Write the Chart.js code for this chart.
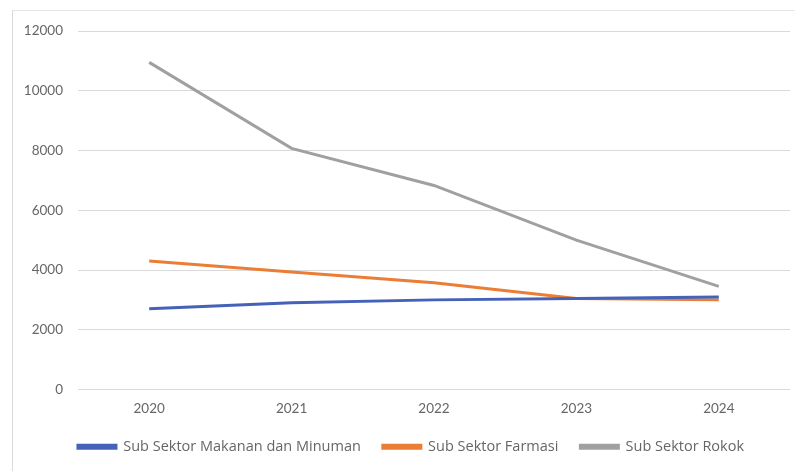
<!DOCTYPE html>
<html><head><meta charset="utf-8">
<script src="https://cdn.jsdelivr.net/npm/chart.js@4.4.1/dist/chart.umd.min.js"></script>
<style>
html,body{margin:0;padding:0;background:#fff;}
#wrap{position:absolute;left:0;top:0;width:795px;height:471px;}
#frame{position:absolute;left:12px;top:10px;width:800px;height:470px;border-left:1.5px solid #d9d9d9;border-top:1.5px solid #e6e6e6;}
</style></head>
<body>
<div id="wrap"><div id="frame"></div><canvas id="c" width="795" height="471"></canvas></div>
<script>
const years = ["2020","2021","2022","2023","2024"];
const makananMinuman = [2700, 2900, 3000, 3050, 3100];
const farmasi = [4300, 3930, 3570, 3050, 3000];
const rokok = [10950, 8070, 6830, 5000, 3450];
const yTicks = [0, 2000, 4000, 6000, 8000, 10000, 12000];

const tickColor = '#666666';
const fontFam = 'Lato, "Liberation Sans", sans-serif';

const shiftLegend = {
  id: 'shiftLegend',
  afterLayout(chart){ if (chart.legend) { chart.legend.left += 20; } }
};

new Chart(document.getElementById('c'), {
  type: 'line',
  data: {
    labels: years,
    datasets: [
      {label:'Sub Sektor Makanan dan Minuman', data: makananMinuman, borderColor:'#4562b8', backgroundColor:'#4562b8', borderWidth:3, pointRadius:0, tension:0},
      {label:'Sub Sektor Farmasi', data: farmasi, borderColor:'#EB7D35', backgroundColor:'#EB7D35', borderWidth:3, pointRadius:0, tension:0},
      {label:'Sub Sektor Rokok', data: rokok, borderColor:'#A0A0A0', backgroundColor:'#A0A0A0', borderWidth:3, pointRadius:0, tension:0}
    ]
  },
  plugins: [shiftLegend],
  options: {
    responsive:false, animation:false,
    layout:{padding:{left:12, right:5, top:31, bottom:7}},
    plugins:{
      legend:{position:'bottom', labels:{boxWidth:38, boxHeight:3, padding:22, color:tickColor, font:{family:'"Open Sans", sans-serif', size:14.5}}},
      tooltip:{enabled:false}
    },
    scales:{
      x:{offset:true, grid:{display:false, drawTicks:false}, border:{display:false}, afterFit: s=>{s.height=28;},
         ticks:{color:tickColor, padding:11, font:{family:fontFam, size:13.5}}},
      y:{min:0, max:12000, afterFit: s=>{s.width=66;},
         afterBuildTicks: s=>{ s.ticks = yTicks.map(v=>({value:v})); },
         grid:{color:'#d9d9d9', lineWidth:1, drawTicks:false}, border:{display:false},
         ticks:{color:tickColor, padding:15, font:{family:fontFam, size:13.5}, callback: v => String(v)}}
    }
  }
});
</script>
</body></html>
